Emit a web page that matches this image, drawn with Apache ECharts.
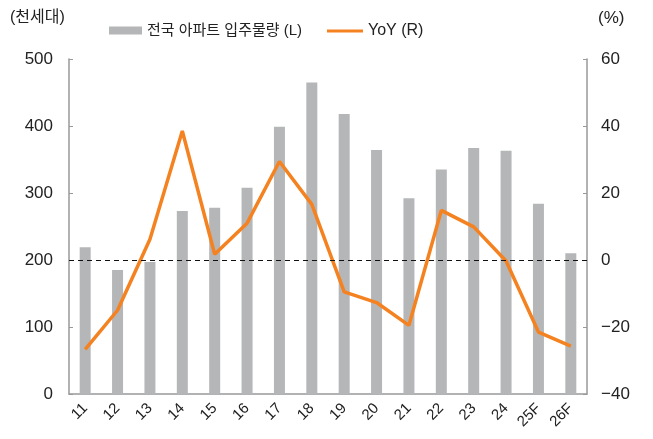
<!DOCTYPE html>
<html><head><meta charset="utf-8">
<script src="https://cdn.jsdelivr.net/npm/echarts@6/dist/echarts.min.js"></script>
<style>html,body{margin:0;padding:0;background:#fff}#c{width:653px;height:439px}</style>
</head><body><div id="c"></div>
<script>
const categories = ['11','12','13','14','15','16','17','18','19','20','21','22','23','24','25F','26F'];
const supply = [219, 185, 197, 273, 278, 308, 399, 465, 418, 364, 292, 335, 367, 363, 284, 210];
const yoy = [-26.7, -15, 6.2, 38.5, 1.7, 11, 29.4, 16.6, -9.5, -12.7, -19.5, 14.8, 9.9, -0.3, -21.5, -25.7];
const barName = '전국 아파트 입주물량 (L)';
const lineName = 'YoY (R)';
const FONT = '"Liberation Sans", "Noto Sans CJK KR", sans-serif';
const chart = echarts.init(document.getElementById('c'));
chart.setOption({
  animation: false,
  textStyle: {fontFamily: FONT},
  grid: {left: 69, right: 66, top: 59, bottom: 45, containLabel: false},
  legend: [
    {top: 18, left: 104, itemGap: 0, itemWidth: 33, itemHeight: 8,
     textStyle: {fontSize: 15, color: '#222', fontFamily: FONT},
     data: [{name: barName, icon: 'rect'}]},
    {top: 18, left: 322, itemGap: 0, itemWidth: 36, itemHeight: 3,
     textStyle: {fontSize: 16, color: '#222', fontFamily: FONT},
     data: [{name: lineName, icon: 'rect'}]}
  ],
  graphic: [
    {type: 'text', left: 10, top: 10, style: {text: '(천세대)', fontSize: 16, fill: '#222', fontFamily: FONT}},
    {type: 'text', left: 598, top: 10, style: {text: '(%)', fontSize: 17, fill: '#222', fontFamily: FONT}}
  ],
  xAxis: {
    type: 'category', data: categories, boundaryGap: true,
    axisLine: {lineStyle: {color: '#999', width: 1.5}},
    axisTick: {inside: true, length: 5, lineStyle: {color: '#999'}},
    axisLabel: {rotate: 45, fontSize: 15, color: '#222', margin: 12, interval: 0}
  },
  yAxis: [
    {type: 'value', min: 0, max: 500, interval: 100, position: 'left',
     axisLine: {show: true, lineStyle: {color: '#999', width: 1.5}},
     axisTick: {show: true, inside: true, length: 4, lineStyle: {color: '#999'}},
     splitLine: {show: false},
     axisLabel: {fontSize: 17, color: '#222', margin: 16}},
    {type: 'value', min: -40, max: 60, interval: 20, position: 'right',
     axisLine: {show: true, lineStyle: {color: '#999', width: 1.5}},
     axisTick: {show: true, inside: true, length: 4, lineStyle: {color: '#999'}},
     splitLine: {show: false},
     axisLabel: {fontSize: 17, color: '#222', margin: 14, formatter: v => String(v).replace('-', '−')}}
  ],
  series: [
    {name: barName, type: 'bar', data: supply, yAxisIndex: 0, barWidth: 11,
     itemStyle: {color: '#b5b6b8'}},
    {name: lineName, type: 'line', data: yoy, yAxisIndex: 1, symbol: 'none',
     lineStyle: {color: '#f58220', width: 3.5}, itemStyle: {color: '#f58220'},
     markLine: {silent: true, symbol: 'none', label: {show: false},
       lineStyle: {color: '#111', type: [5, 4], width: 1},
       data: [{yAxis: 0}]}}
  ]
});
</script></body></html>
